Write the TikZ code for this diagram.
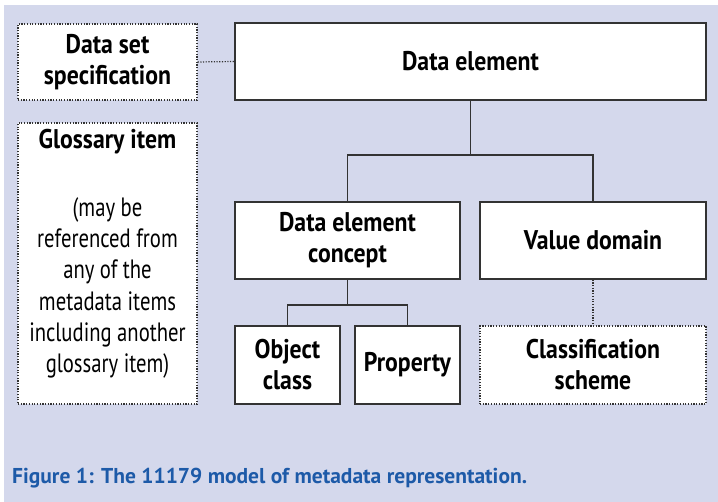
\documentclass[tikz,border=0pt]{standalone}
\usepackage{fontspec}
\setmainfont{PT Sans}[FakeStretch=0.78]
\newfontfamily\headfont{PT Sans}[FakeStretch=0.88]
\newfontfamily\capfont{PT Sans}
\definecolor{bgcol}{HTML}{D4D8EC}
\definecolor{linecol}{HTML}{333333}
\definecolor{capcol}{HTML}{1D5AA8}

\begin{document}
\begin{tikzpicture}[x=1pt,y=-1pt,
    box/.style={draw=linecol,line width=1.3pt,fill=white,inner sep=0pt,align=center,
      font=\headfont\bfseries\fontsize{27}{31}\selectfont},
    dotbox/.style={box,line width=1.2pt,dash pattern=on 1.2pt off 1.5pt},
    plaintext/.style={inner sep=0pt,align=center,font=\fontsize{26.5}{31.2}\selectfont},
    link/.style={draw=linecol,line width=1.3pt},
    dotlink/.style={draw=linecol,line width=1.2pt,dash pattern=on 1.2pt off 1.5pt}]

     %background
     \fill[white] (0,0) rectangle (718,502);
     \fill[bgcol] (4,5) rectangle (718,502);

     %top row
     \node[dotbox, minimum width=179pt, minimum height=76pt] (dss) at (107.5,62) {Data set\\specification};
     \node[box, minimum width=471pt, minimum height=77pt] (de) at (470.5,61.5) {Data element};
     \draw[dotlink] (dss.east) -- (de.west);

     %glossary
     \node[dotbox, minimum width=179pt, minimum height=281pt] (gl) at (107.5,263.5) {};
     \node[box, draw=none, fill=none] (gltitle) at (107.5,142) {Glossary item};
     \node[plaintext] (gltext) at (107.5,288) {(may be\\referenced from\\any of the\\metadata items\\including another\\glossary item)};

     %second row
     \node[box, minimum width=225pt, minimum height=77pt] (dec) at (347.5,240.5) {Data element\\concept};
     \node[box, minimum width=226pt, minimum height=77pt] (vd) at (593,240.5) {Value domain};
     \coordinate (j1) at (470.5,155);
     \draw[link] (de.south) -- (j1);
     \draw[link] (dec.north) |- (j1) -| (vd.north);

     %third row
     \node[box, minimum width=105pt, minimum height=78pt] (oc) at (287.5,365) {Object\\class};
     \node[box, minimum width=105pt, minimum height=78pt] (prop) at (407.5,365) {Property};
     \node[dotbox, minimum width=226pt, minimum height=78pt] (cs) at (593,365) {Classification\\scheme};
     \coordinate (j2) at (347.5,305);
     \draw[link] (dec.south) -- (j2);
     \draw[link] (oc.north) |- (j2) -| (prop.north);
     \draw[dotlink] (vd.south) -- (cs.north);

     %caption
     \node[anchor=west, inner sep=0pt, text=capcol, font=\capfont\bfseries\fontsize{21.5}{25}\selectfont] (cap) at (12,478) {Figure 1: The 11179 model of metadata representation.};

\end{tikzpicture}
\end{document}
